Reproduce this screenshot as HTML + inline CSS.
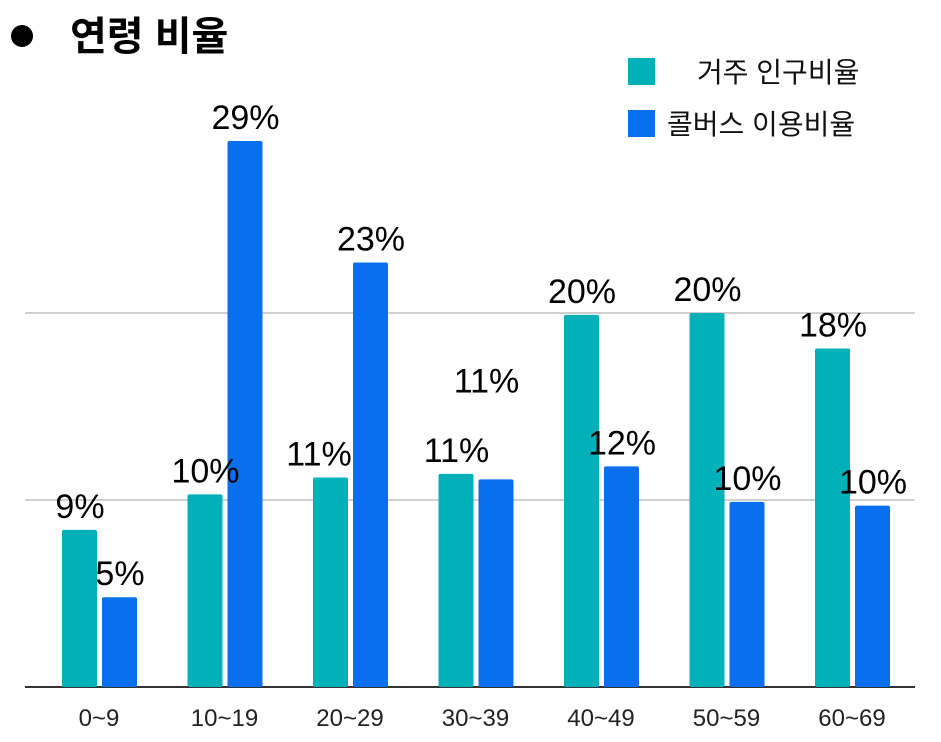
<!DOCTYPE html>
<html><head><meta charset="utf-8">
<style>
html,body{margin:0;padding:0;background:#fff;}
body{width:941px;height:737px;overflow:hidden;font-family:"Liberation Sans","Noto Sans CJK KR",sans-serif;}
text{font-family:"Liberation Sans","Noto Sans CJK KR",sans-serif;}
</style></head>
<body>
<svg id="chart" width="941" height="737" xmlns="http://www.w3.org/2000/svg">
  <circle cx="22" cy="36" r="11" fill="#000"/>
  <text x="70" y="50" font-size="40" font-weight="bold" fill="#000">연령 비율</text>
  <rect x="628" y="58" width="27" height="27" fill="#00b1b9"/>
  <text x="697" y="82" font-size="28" fill="#111">거주 인구비율</text>
  <rect x="628" y="110" width="27" height="27" fill="#0a6fef"/>
  <text x="667" y="134" font-size="28" fill="#111">콜버스 이용비율</text>
  <g id="grid"></g>
  <g id="bars"></g>
  <g id="labels"></g>
  <g id="xticks"></g>
</svg>
<script>
const categories = ["0~9","10~19","20~29","30~39","40~49","50~59","60~69"];
const residentValues = [8.4,10.3,11.2,11.4,19.9,20.0,18.1];
const callbusValues = [4.8,29.2,22.7,11.1,11.8,9.9,9.7];
const residentLabels = ["9%","10%","11%","11%","20%","20%","18%"];
const callbusLabels = ["5%","29%","23%","11%","12%","10%","10%"];
const gridTicks = [10,20];

const NS="http://www.w3.org/2000/svg";
const baseY=687, pxPer=18.7;
const y = v => baseY - v*pxPer;
const groupCenter = i => 99 + i*125.5;
const barW=35;
function mk(tag,attrs,parent){const e=document.createElementNS(NS,tag);for(const k in attrs)e.setAttribute(k,attrs[k]);parent.appendChild(e);return e;}
const grid=document.getElementById('grid'),bars=document.getElementById('bars'),labels=document.getElementById('labels'),xt=document.getElementById('xticks');
gridTicks.forEach(t=>{
  const l=mk('line',{x1:25,x2:915,y1:y(t),y2:y(t),stroke:'#d0d0d0','stroke-width':2},grid);
  
  
});
const base=mk('line',{x1:25,x2:915,y1:baseY,y2:baseY,stroke:'#333','stroke-width':2},grid);


categories.forEach((c,i)=>{
  const cx=groupCenter(i);
  const r=mk('rect',{x:cx-37,y:y(residentValues[i]),width:barW,height:residentValues[i]*pxPer,rx:2,fill:'#00b1b9'},bars);
  
  
  const b=mk('rect',{x:cx+3,y:y(callbusValues[i]),width:barW,height:callbusValues[i]*pxPer,rx:2,fill:'#0a6fef'},bars);
  
  
  let rdx=0, bdx=0, bdy=0;
  if(i===2) rdx=-12;
  if(i===3){bdx=-10; bdy=-75;}
  const tl=mk('text',{x:cx-19+rdx,y:y(residentValues[i])-12,'font-size':34,'text-anchor':'middle',fill:'#000'},labels);
  tl.textContent=residentLabels[i];
  
  
  const bl=mk('text',{x:cx+21+bdx,y:y(callbusValues[i])-12+bdy,'font-size':34,'text-anchor':'middle',fill:'#000'},labels);
  bl.textContent=callbusLabels[i];
  
  
  const xl=mk('text',{x:cx,y:726,'font-size':24,'text-anchor':'middle',fill:'#222'},xt);
  xl.textContent=c;
  
  
});
</script>
</body></html>
